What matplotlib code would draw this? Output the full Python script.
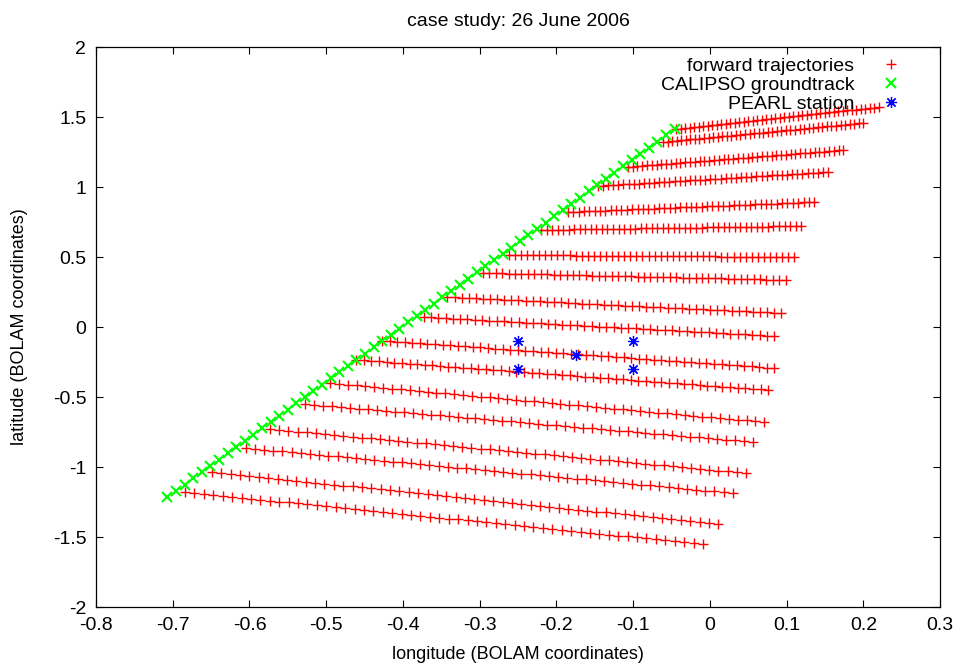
import matplotlib
matplotlib.use("Agg")
import matplotlib.pyplot as plt
import numpy as np

plt.rcParams["font.family"] = ["Liberation Sans", "DejaVu Sans"]

# forward trajectories, top to bottom: first point, last point, number of points
traj_x0 = [-0.044, -0.061, -0.107, -0.146, -0.185, -0.220, -0.262, -0.296, -0.342,
           -0.373, -0.427, -0.461, -0.495, -0.527, -0.573, -0.605, -0.649, -0.684]
traj_y0 = [1.414, 1.321, 1.143, 1.007, 0.821, 0.693, 0.514, 0.386, 0.214,
           0.071, -0.097, -0.234, -0.400, -0.550, -0.729, -0.864, -1.036, -1.179]
traj_x1 = [0.220, 0.200, 0.174, 0.154, 0.136, 0.119, 0.110, 0.099, 0.093,
           0.084, 0.084, 0.076, 0.071, 0.056, 0.047, 0.030, 0.011, -0.009]
traj_y1 = [1.571, 1.457, 1.264, 1.107, 0.893, 0.721, 0.500, 0.336, 0.100,
           -0.064, -0.293, -0.450, -0.679, -0.821, -1.043, -1.186, -1.407, -1.550]
traj_n = [46, 45, 46, 46, 47, 48, 48, 48, 48, 49, 53, 55, 50, 51, 53, 54, 55, 56]

# CALIPSO groundtrack ends and number of footprints
track_x = [-0.707, -0.046]
track_y = [-1.214, 1.414]
track_n = 60

# PEARL station
pearl_x = [-0.25, -0.175, -0.10, -0.25, -0.10]
pearl_y = [-0.10, -0.20, -0.10, -0.30, -0.30]

fs = 14

fig = plt.figure(figsize=(9.57, 6.64), dpi=100)
ax = fig.add_axes([0.1003, 0.0858, 0.8820, 0.8434])

tx, ty = [], []
for x0, y0, x1, y1, n in zip(traj_x0, traj_y0, traj_x1, traj_y1, traj_n):
    tx.extend(np.linspace(x0, x1, n))
    ty.extend(np.linspace(y0, y1, n))
ax.plot(tx, ty, ls="none", marker="+", color="#ff0000", ms=7, mew=1.0,
        label="forward trajectories", zorder=2)

gx = np.linspace(track_x[0], track_x[1], track_n)
gy = np.linspace(track_y[0], track_y[1], track_n)
ax.plot(gx, gy, ls="none", marker="x", color="#00ff00", ms=7.5, mew=1.5,
        label="CALIPSO groundtrack", zorder=3)

ax.plot(pearl_x, pearl_y, ls="none", marker=(8, 2, 0), color="#0000ff", ms=8, mew=0.9,
        label="PEARL station", zorder=4)

ax.set_xlim(-0.8, 0.3)
ax.set_ylim(-2, 2)
ax.set_xticks(np.arange(-0.8, 0.31, 0.1))
ax.set_xticklabels(["-0.8", "-0.7", "-0.6", "-0.5", "-0.4", "-0.3", "-0.2", "-0.1",
                    "0", "0.1", "0.2", "0.3"])
ax.set_yticks(np.arange(-2, 2.01, 0.5))
ax.set_yticklabels(["-2", "-1.5", "-1", "-0.5", "0", "0.5", "1", "1.5", "2"])
ax.tick_params(direction="in", length=5, width=0.8, top=True, right=True,
               labelsize=fs, pad=7)
for s in ax.spines.values():
    s.set_linewidth(0.9)

ax.set_title("case study: 26 June 2006", fontsize=fs, pad=15)
ax.set_xlabel("longitude (BOLAM coordinates)", fontsize=13, labelpad=9)
ax.set_ylabel("latitude (BOLAM coordinates)", fontsize=13, labelpad=18)

leg = ax.legend(loc="upper right", bbox_to_anchor=(0.955, 0.982), markerfirst=False,
                frameon=False, numpoints=1, fontsize=fs, handlelength=1.15,
                handletextpad=1.3, labelspacing=0.08, borderpad=0, borderaxespad=0)

fig.savefig("out.png", dpi=100)
